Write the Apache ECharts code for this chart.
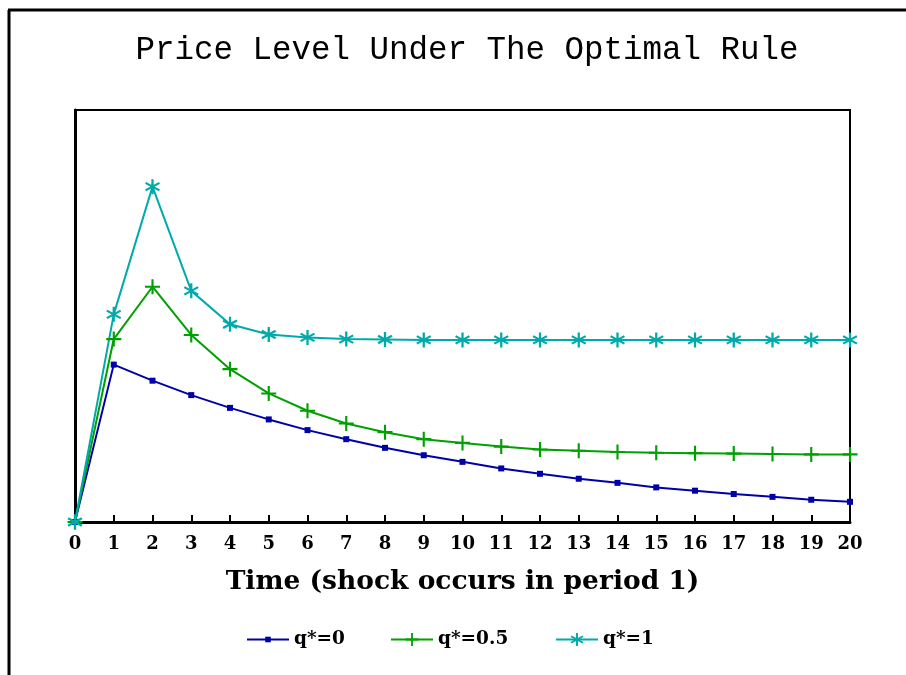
<!DOCTYPE html>
<html>
<head>
<meta charset="utf-8">
<script src="https://cdn.jsdelivr.net/npm/echarts@6/dist/echarts.min.js"></script>
<style>
html,body{margin:0;padding:0;background:#fff;}
#chart{width:906px;height:675px;}
</style>
</head>
<body>
<div id="chart"></div>
<script>
const periods = [0,1,2,3,4,5,6,7,8,9,10,11,12,13,14,15,16,17,18,19,20];
const seriesNames = ['q*=0', 'q*=0.5', 'q*=1'];
const q0 = [0, 38.2, 34.3, 30.8, 27.7, 24.9, 22.3, 20.1, 18.0, 16.2, 14.6, 13.0, 11.7, 10.5, 9.5, 8.4, 7.6, 6.8, 6.1, 5.4, 4.9];
const q05 = [0, 44.4, 57.1, 45.4, 37.1, 31.2, 27.0, 23.9, 21.8, 20.1, 19.2, 18.3, 17.6, 17.3, 17.0, 16.8, 16.7, 16.6, 16.5, 16.4, 16.4];
const q1 = [0, 50.4, 81.4, 56.1, 48.0, 45.5, 44.8, 44.4, 44.3, 44.2, 44.2, 44.2, 44.2, 44.2, 44.2, 44.2, 44.2, 44.2, 44.2, 44.2, 44.2];
const titleText = 'Price Level Under The Optimal Rule';
const xAxisName = 'Time (shock occurs in period 1)';

const colors = ['#0000aa', '#00a000', '#00aaaa'];
const plusPath = 'path://M-1,-7 L1,-7 L1,-1 L7,-1 L7,1 L1,1 L1,7 L-1,7 L-1,1 L-7,1 L-7,-1 L-1,-1 Z';
const starPath = 'path://M-1,-7 L1,-7 L1,7 L-1,7 Z M-6.56,-2.63 L-5.56,-4.37 L6.56,2.63 L5.56,4.37 Z M5.56,-4.37 L6.56,-2.63 L-5.56,4.37 L-6.56,2.63 Z';

function pairs(arr){ return arr.map((v,i)=>[periods[i], v]); }

const chart = echarts.init(document.getElementById('chart'));
const serifBold = '"DejaVu Serif", serif';
const legendText = { fontFamily: serifBold, fontWeight: 'bold', fontSize: 18.5, color: '#000' };
function legendFor(name, left, h){
  return { data: [name], left: left, top: 630, itemWidth: 42, itemHeight: h, textStyle: legendText, padding: 0 };
}
chart.setOption({
  backgroundColor: '#fff',
  animation: false,
  title: {
    text: titleText,
    left: 462,
    textAlign: 'center',
    top: 29,
    textStyle: { fontFamily: '"Liberation Mono", monospace', fontWeight: 'normal', fontSize: 32.5, color: '#000' }
  },
  grid: { left: 75, right: 56, top: 110, bottom: 153, show: true, borderColor: '#000', borderWidth: 2 },
  legend: [
    legendFor(seriesNames[0], 246, 7),
    legendFor(seriesNames[1], 390, 16),
    legendFor(seriesNames[2], 555, 16)
  ],
  xAxis: {
    type: 'value',
    min: 0, max: 20, interval: 1,
    name: xAxisName,
    nameLocation: 'middle',
    nameGap: 47,
    nameTextStyle: { fontFamily: serifBold, fontWeight: 'bold', fontSize: 26.5, color: '#000' },
    axisLine: { lineStyle: { color: '#000', width: 3 } },
    axisTick: { inside: true, length: 7, lineStyle: { color: '#000', width: 2 } },
    axisLabel: { fontFamily: serifBold, fontWeight: 'bold', fontSize: 18, color: '#000', margin: 13 },
    splitLine: { show: false }
  },
  yAxis: {
    type: 'value',
    min: 0, max: 100,
    axisLine: { show: true, lineStyle: { color: '#000', width: 3 } },
    axisTick: { show: false },
    axisLabel: { show: false },
    splitLine: { show: false }
  },
  series: [
    { name: seriesNames[0], type: 'line', data: pairs(q0), symbol: 'rect', symbolSize: 6,
      color: colors[0], lineStyle: { width: 2 }, itemStyle: { color: colors[0] } },
    { name: seriesNames[1], type: 'line', data: pairs(q05), symbol: plusPath, symbolSize: 15,
      color: colors[1], lineStyle: { width: 2 }, itemStyle: { color: colors[1] } },
    { name: seriesNames[2], type: 'line', data: pairs(q1), symbol: starPath, symbolSize: 15,
      color: colors[2], lineStyle: { width: 2 }, itemStyle: { color: colors[2] } }
  ],
  graphic: [
    { type: 'line', shape: { x1: 9, y1: 10, x2: 9, y2: 675 }, style: { stroke: '#000', lineWidth: 3 } },
    { type: 'line', shape: { x1: 8, y1: 10, x2: 906, y2: 10 }, style: { stroke: '#000', lineWidth: 3 } }
  ]
});
</script>
</body>
</html>
